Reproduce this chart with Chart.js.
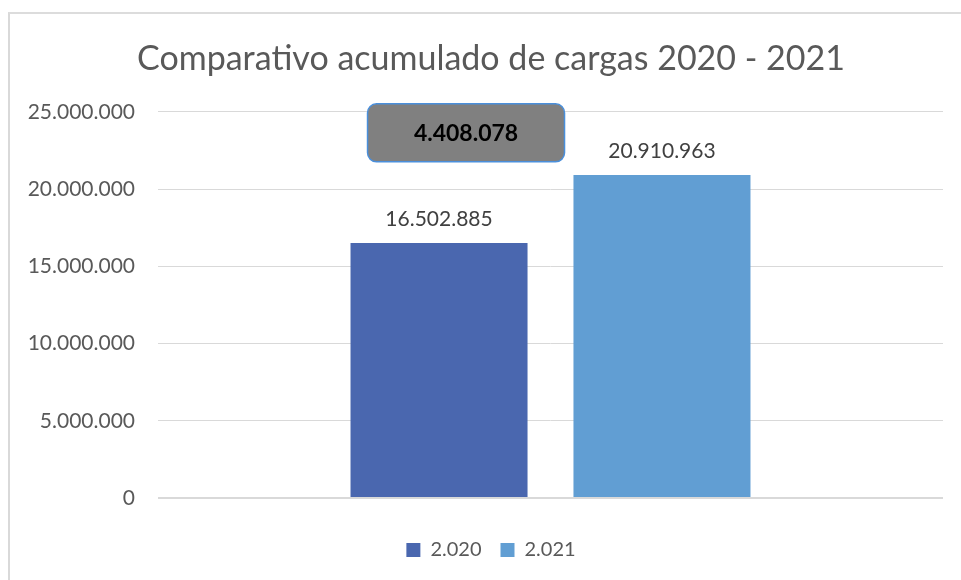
<!DOCTYPE html>
<html>
<head>
<meta charset="utf-8">
<script src="https://cdn.jsdelivr.net/npm/chart.js@4"></script>
<style>
  html, body { margin: 0; padding: 0; background: #ffffff; overflow: hidden; width: 961px; height: 580px; }
  #frame { position: absolute; left: 8px; top: 12px; width: 966px; height: 570px; border-left: 2px solid #d9d9d9; border-top: 2px solid #dcdcdc; background: #fff; }
  canvas { display: block; }
</style>
</head>
<body>
<div id="frame"><canvas id="c" width="962" height="566"></canvas></div>
<script>
const chartTitle = 'Comparativo acumulado de cargas 2020 - 2021';
const categories = [''];
const seriesNames = ['2.020', '2.021'];
const values2020 = [16502885];
const values2021 = [20910963];
const differenceValue = 4408078;
const yTicks = [0, 5000000, 10000000, 15000000, 20000000, 25000000];
const colors = ['#4A67AF', '#619ED3'];

const FONT = 'Lato';
function fmt(v) { return String(Math.round(v)).replace(/\B(?=(\d{3})+(?!\d))/g, '.'); }

const valueLabels = {
  id: 'valueLabels',
  afterDatasetsDraw(chart) {
    const ctx = chart.ctx;
    ctx.save();
    ctx.font = '21px ' + FONT;
    ctx.fillStyle = '#404040';
    ctx.textAlign = 'center';
    ctx.textBaseline = 'middle';
    chart.data.datasets.forEach((ds, i) => {
      const meta = chart.getDatasetMeta(i);
      meta.data.forEach((el, j) => {
        ctx.fillText(fmt(ds.data[j]), el.x, el.y - 24);
      });
    });
    ctx.restore();
  }
};

const diffBox = {
  id: 'diffBox',
  afterDatasetsDraw(chart) {
    const ctx = chart.ctx;
    const bar = chart.getDatasetMeta(0).data[0];
    const y = chart.scales.y.getPixelForValue(23640000);
    const cx = bar.x + 27, w = 197, h = 58, r = 9;
    const x0 = cx - w / 2, y0 = y - h / 2;
    ctx.save();
    ctx.beginPath();
    ctx.roundRect(x0, y0, w, h, r);
    ctx.fillStyle = '#808080';
    ctx.fill();
    ctx.lineWidth = 1.5;
    ctx.strokeStyle = '#4A8FDB';
    ctx.stroke();
    ctx.font = 'bold 23px ' + FONT;
    ctx.fillStyle = '#000000';
    ctx.textAlign = 'center';
    ctx.textBaseline = 'middle';
    ctx.fillText(fmt(differenceValue), cx, y + 1);
    ctx.restore();
  }
};

new Chart(document.getElementById('c'), {
  type: 'bar',
  data: {
    labels: categories,
    datasets: [
      { label: seriesNames[0], data: values2020, backgroundColor: colors[0], categoryPercentage: 0.568, barPercentage: 0.794 },
      { label: seriesNames[1], data: values2021, backgroundColor: colors[1], categoryPercentage: 0.568, barPercentage: 0.794 }
    ]
  },
  options: {
    responsive: false,
    animation: false,
    devicePixelRatio: 1,
    layout: { padding: { left: 0, right: 0, top: 0, bottom: 10 } },
    plugins: {
      title: {
        display: true,
        text: chartTitle,
        color: '#595959',
        font: { family: FONT, size: 34, weight: 'normal' },
        padding: { top: 25, bottom: 32 }
      },
      legend: {
        position: 'bottom',
        labels: {
          boxWidth: 14, boxHeight: 14, padding: 19,
          color: '#595959',
          font: { family: FONT, size: 20 }
        }
      },
      tooltip: { enabled: false }
    },
    scales: {
      x: {
        grid: { display: false },
        border: { display: false },
        ticks: { display: false },
        afterFit(s) { s.height = 23; }
      },
      y: {
        min: 0, max: 25000000,
        afterBuildTicks(s) { s.ticks = yTicks.map(v => ({ value: v })); },
        afterFit(s) { s.width = 148; },
        border: { display: false },
        grid: {
          color: '#d9d9d9',
          drawTicks: false,
          lineWidth: c => (c.tick && c.tick.value === 0 ? 2 : 1)
        },
        ticks: {
          padding: 23,
          color: '#595959',
          font: { family: FONT, size: 21 },
          callback: v => fmt(v)
        }
      },
      spacer: {
        type: 'linear',
        position: 'right',
        min: 0, max: 1,
        grid: { display: false, drawOnChartArea: false },
        border: { display: false },
        ticks: { display: false },
        afterFit(s) { s.width = 29; }
      }
    }
  },
  plugins: [valueLabels, diffBox]
});
</script>
</body>
</html>
